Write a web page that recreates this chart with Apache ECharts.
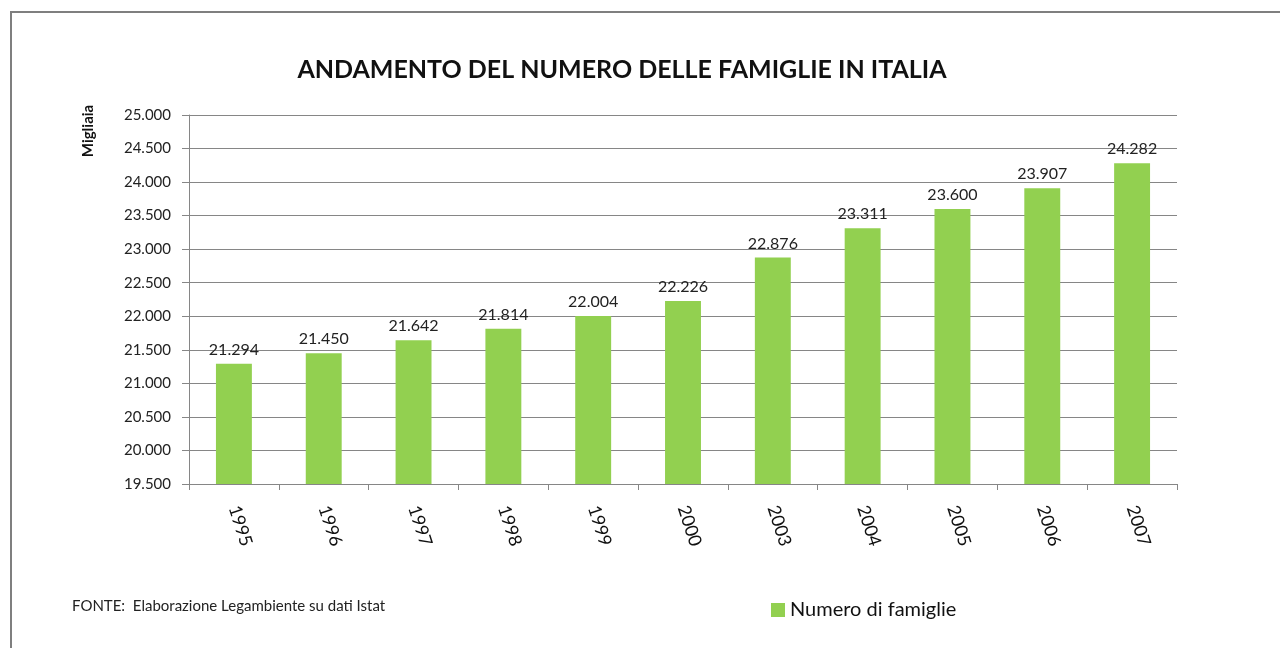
<!DOCTYPE html>
<html>
<head>
<meta charset="utf-8">
<script src="https://cdn.jsdelivr.net/npm/echarts@6/dist/echarts.min.js"></script>
<style>
  html, body { margin: 0; padding: 0; background: #fff; }
  #main { width: 1280px; height: 648px; }
</style>
</head>
<body>
<div id="main"></div>
<script>
var anni = ['1995', '1996', '1997', '1998', '1999', '2000', '2003', '2004', '2005', '2006', '2007'];
var famiglie = [21294, 21450, 21642, 21814, 22004, 22226, 22876, 23311, 23600, 23907, 24282];

var myChart = echarts.init(document.getElementById('main'));

function formatta(v) {
    // separatore delle migliaia all'italiana
    var s = String(Math.round(v));
    return s.replace(/\B(?=(\d{3})+(?!\d))/g, '.');
}

var fontBase = 'Lato, "Open Sans", sans-serif';

var option = {
    backgroundColor: '#fff',
    animation: false,
    title: {
        text: 'ANDAMENTO DEL NUMERO DELLE FAMIGLIE IN ITALIA',
        left: 617,
        textAlign: 'center',
        top: 52,
        textStyle: {
            fontFamily: fontBase,
            fontSize: 25,
            fontWeight: 'bold',
            color: '#111'
        }
    },
    graphic: [{
        type: 'polyline',
        shape: { points: [[11, 648], [11, 12], [1280, 12]] },
        style: { stroke: '#7f7f7f', lineWidth: 2, fill: null }
    }, {
        type: 'text',
        left: 72,
        top: 599,
        style: {
            text: 'FONTE:  Elaborazione Legambiente su dati Istat',
            font: '15px ' + fontBase,
            fill: '#222'
        }
    }, {
        type: 'text',
        x: 88,
        y: 131,
        rotation: Math.PI / 2,
        originX: 0,
        originY: 0,
        style: {
            text: 'Migliaia',
            font: 'bold 15px ' + fontBase,
            fill: '#111',
            align: 'center',
            verticalAlign: 'middle'
        }
    }],
    legend: {
        data: ['Numero di famiglie'],
        left: 766,
        top: 595,
        itemWidth: 14,
        itemHeight: 14,
        icon: 'rect',
        itemGap: 4,
        textStyle: {
            fontFamily: fontBase,
            fontSize: 20,
            color: '#111'
        }
    },
    grid: {
        left: 189,
        right: 103,
        top: 115,
        bottom: 164
    },
    xAxis: {
        type: 'category',
        data: anni,
        axisLine: { lineStyle: { color: '#868686', width: 1 } },
        axisTick: { show: true, length: 6, lineStyle: { color: '#868686' } },
        axisLabel: {
            rotate: -72,
            margin: 22,
            fontFamily: fontBase,
            fontSize: 18,
            color: '#111'
        }
    },
    yAxis: {
        type: 'value',
        min: 19500,
        max: 25000,
        interval: 500,
        axisLine: { show: true, lineStyle: { color: '#868686', width: 1 } },
        axisTick: { show: true, inside: false, length: 7, lineStyle: { color: '#868686' } },
        splitLine: { show: true, lineStyle: { color: '#868686', width: 1 } },
        axisLabel: {
            margin: 18,
            fontFamily: fontBase,
            fontSize: 15,
            color: '#222',
            formatter: function (v) { return formatta(v); }
        }
    },
    series: [{
        name: 'Numero di famiglie',
        type: 'bar',
        data: famiglie,
        barWidth: '40%',
        itemStyle: { color: '#92D050' },
        label: {
            show: true,
            position: 'top',
            distance: 6,
            fontFamily: fontBase,
            fontSize: 16,
            color: '#222',
            formatter: function (p) { return formatta(p.value); }
        }
    }]
};

myChart.setOption(option);
</script>
</body>
</html>
